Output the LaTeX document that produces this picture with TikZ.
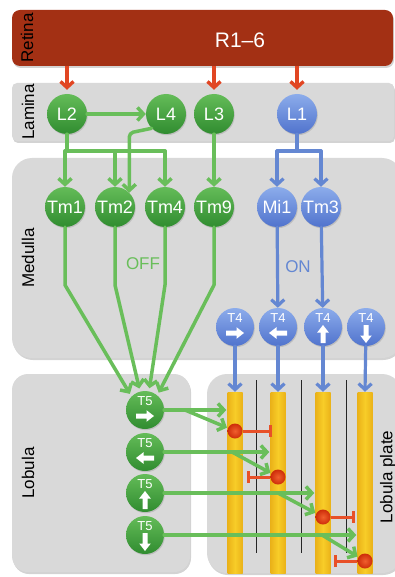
\documentclass[tikz,border=0pt]{standalone}
\usepackage{fontspec}
\setmainfont{Liberation Sans}
\usetikzlibrary{arrows.meta,shadows,calc}
\definecolor{retinared}{RGB}{163,48,20}
\definecolor{redarr}{RGB}{225,70,35}
\definecolor{boxgray}{RGB}{217,217,217}
\definecolor{gTop}{RGB}{100,188,88}
\definecolor{gBot}{RGB}{48,140,48}
\definecolor{gLine}{RGB}{105,190,90}
\definecolor{bTop}{RGB}{140,172,235}
\definecolor{bBot}{RGB}{80,115,205}
\definecolor{bLine}{RGB}{100,135,210}
\definecolor{barY}{RGB}{248,205,40}
\definecolor{barE}{RGB}{234,178,25}
\definecolor{dotIn}{RGB}{240,95,45}
\definecolor{dotOut}{RGB}{205,45,10}
\definecolor{inhR}{RGB}{232,80,40}
\begin{document}
\begin{tikzpicture}[x=1pt,y=-1pt,
  region/.style={fill=boxgray, rounded corners=16pt,
    drop shadow={opacity=0.35,shadow xshift=1pt,shadow yshift=-2pt}},
  reglab/.style={rotate=90, font=\fontsize{17}{20}\selectfont, inner sep=0pt},
  neuron/.style={circle, minimum size=40pt, inner sep=0pt, text=white,
    font=\fontsize{18}{21}\selectfont,
    drop shadow={opacity=0.3,shadow xshift=0.8pt,shadow yshift=-1.2pt}},
  gn/.style={neuron, top color=gTop, bottom color=gBot},
  bn/.style={neuron, top color=bTop, bottom color=bBot},
  tn/.style={minimum size=38pt},
  tlab/.style={text=white, font=\fontsize{13}{15}\selectfont, inner sep=0pt},
  gL/.style={draw=gLine, line width=3.5pt, line cap=round, line join=round},
  gA/.style={gL, -{Straight Barb[length=6pt,width=13pt]}},
  bL/.style={draw=bLine, line width=3.2pt, line cap=round, line join=round},
  bA/.style={bL, -{Straight Barb[length=6pt,width=13pt]}},
  redA/.style={draw=redarr, line width=3.4pt, -{Straight Barb[length=6pt,width=13pt]}},
  inh/.style={draw=inhR, line width=3pt, -{Bar[width=12pt]}},
  barN/.style={rectangle, inner sep=0pt, minimum width=15pt, minimum height=181pt,
    left color=barE, right color=barE, middle color=barY,
    drop shadow={opacity=0.3,shadow xshift=0.8pt,shadow yshift=-1pt}},
  dotN/.style={circle, inner sep=0pt, minimum size=15pt, inner color=dotIn, outer color=dotOut},
  warr/.pic={\fill[white] (-9,-2.5) -- (1.5,-2.5) -- (1.5,-5.8) -- (9,0) -- (1.5,5.8) -- (1.5,2.5) -- (-9,2.5) -- cycle;}
]
\useasboundingbox (0,0) rectangle (395,577);

% regions
\path[fill=retinared, rounded corners=8pt,
  drop shadow={opacity=0.35,shadow xshift=1pt,shadow yshift=-2pt}] (12,10) rectangle (393,66);
\node[reglab] (retinaLab) at (27,38) {Retina};
\node[text=white, font=\fontsize{21}{25}\selectfont] (R16) at (240,40) {R1–6};

\path[region, rounded corners=5pt] (12,83) rectangle (394,141);
\node[reglab] (laminaLab) at (28,112) {Lamina};

\path[region, rounded corners=20pt] (12,158) rectangle (402,358);
\node[reglab] (medullaLab) at (28,258) {Medulla};

\path[region] (12,374) rectangle (190,572);
\node[reglab] (lobulaLab) at (28,473) {Lobula};

\path[region, rounded corners=20pt] (207,374) rectangle (402,573);
\node[reglab] (lpLab) at (388,477) {Lobula plate};

% lamina
\node[gn] (L2) at (67,114) {L2};
\node[gn] (L4) at (166,114) {L4};
\node[gn] (L3) at (214,114) {L3};
\node[bn] (L1) at (297,114) {L1};

% medulla
\node[gn] (Tm1) at (65,207) {Tm1};
\node[gn] (Tm2) at (115,207) {Tm2};
\node[gn] (Tm4) at (165,207) {Tm4};
\node[gn] (Tm9) at (214,207) {Tm9};
\node[bn] (Mi1) at (277,207) {Mi1};
\node[bn] (Tm3) at (321,207) {Tm3};
\node[text=gLine, font=\fontsize{17}{20}\selectfont] (OFF) at (143,264) {OFF};
\node[text=bLine, font=\fontsize{17}{20}\selectfont] (ON) at (298,267) {ON};

\node[bn, tn] (T4a) at (235,327) {};
\node[bn, tn] (T4b) at (278,327) {};
\node[bn, tn] (T4c) at (323,327) {};
\node[bn, tn] (T4d) at (366,327) {};
\foreach \n in {T4a,T4b,T4c,T4d}{\node[tlab] (\n lab) at ($(\n)+(0,-9)$) {T4};}
\pic at ($(T4a)+(0,6)$) {warr};
\pic[rotate=180] at ($(T4b)+(0,6)$) {warr};
\pic[rotate=90] at ($(T4c)+(0,7)$) {warr};
\pic[rotate=-90] at ($(T4d)+(0,7)$) {warr};

% lobula
\node[gn, tn] (T5r) at (145,410) {};
\node[gn, tn] (T5l) at (145,452) {};
\node[gn, tn] (T5u) at (145,493) {};
\node[gn, tn] (T5d) at (145,535) {};
\foreach \n in {T5r,T5l,T5u,T5d}{\node[tlab] (\n lab) at ($(\n)+(0,-9)$) {T5};}
\pic at ($(T5r)+(0,6)$) {warr};
\pic[rotate=180] at ($(T5l)+(0,6)$) {warr};
\pic[rotate=90] at ($(T5u)+(0,7)$) {warr};
\pic[rotate=-90] at ($(T5d)+(0,7)$) {warr};

% lobula plate
\foreach \x in {256,301,346}{\draw[black!85, line width=0.9pt] (\x,380) -- (\x,553);}
\node[barN] (b1) at (235,482.5) {};
\node[barN] (b2) at (278,482.5) {};
\node[barN] (b3) at (323,482.5) {};
\node[barN] (b4) at (365,482.5) {};
\node[dotN] (d1) at (235,431) {};
\node[dotN] (d2) at (278,477) {};
\node[dotN] (d3) at (323,517) {};
\node[dotN] (d4) at (365,561) {};

% retina -> lamina
\draw[redA, shorten >=4pt] (L2 |- 0,66) -- (L2.north);
\draw[redA, shorten >=4pt] (L3 |- 0,66) -- (L3.north);
\draw[redA, shorten >=4pt] (L1 |- 0,66) -- (L1.north);

% lamina -> medulla
\draw[gA] (L2) -- (L4);
\coordinate (hubA) at (65,151);
\coordinate (hubC) at (297,151);
\draw[gL] (L2.south) -- (L2 |- hubA) -- (Tm4 |- hubA);
\draw[gL] (Tm1 |- hubA) -- (L2 |- hubA);
\draw[gA] (Tm1 |- hubA) -- (Tm1.north);
\draw[gA] (Tm2 |- hubA) -- (Tm2.north);
\draw[gA] (Tm4 |- hubA) -- (Tm4.north);
\draw[gA, rounded corners=4pt] (L4.225) -- (Tm2.45 |- 0,133) -- (Tm2.45);
\draw[gA] (L3) -- (Tm9);
\draw[bL] (L1.south) -- (L1 |- hubC);
\draw[bL] (Mi1 |- hubC) -- (Tm3 |- hubC);
\draw[bA] (Mi1 |- hubC) -- (Mi1.north);
\draw[bA] (Tm3 |- hubC) -- (Tm3.north);

% medulla -> lobula
\draw[gA, shorten >=3pt] (Tm1.south) -- (Tm1 |- 0,285) -- (T5r.135);
\draw[gA, shorten >=3pt] (Tm2.south) -- (Tm2 |- 0,285) -- (T5r.105);
\draw[gA, shorten >=3pt] (Tm4.south) -- (Tm4 |- 0,285) -- (T5r.78);
\draw[gA, shorten >=3pt] (Tm9.south) -- (Tm9 |- 0,285) -- (T5r.50);
\draw[bA] (Mi1) -- (T4b);
\draw[bA] (Tm3) -- (T4c);

% T4 -> lobula plate
\draw[bA] (T4a) -- (b1.north);
\draw[bA] (T4b) -- (b2.north);
\draw[bA] (T4c) -- (b3.north);
\draw[bA] (T4d) -- (b4.north);

% T5 -> lobula plate
\coordinate (s1) at (185,410);
\coordinate (s2) at (232,452);
\coordinate (s3) at (278,493);
\coordinate (s4) at (322,535);
\draw[gA, shorten >=1pt] (T5r.east) -- (b1.west |- T5r);
\draw[gA, shorten >=1pt] (s1) -- (d1);
\draw[gA, shorten >=1pt] (T5l.east) -- (b2.west |- T5l);
\draw[gA, shorten >=1pt] (s2) -- (d2);
\draw[gA, shorten >=1pt] (T5u.east) -- (b3.west |- T5u);
\draw[gA, shorten >=1pt] (s3) -- (d3);
\draw[gA, shorten >=1pt] (T5d.east) -- (b4.west |- T5d);
\draw[gA, shorten >=1pt] (s4) -- (d4);

% inhibition
\coordinate (i1) at (272,431);
\coordinate (i2) at (247,477);
\coordinate (i3) at (355,517);
\coordinate (i4) at (334,561);
\draw[inh] (d1) -- (i1);
\draw[inh] (d2) -- (i2);
\draw[inh] (d3) -- (i3);
\draw[inh] (d4) -- (i4);
\end{tikzpicture}
\end{document}
